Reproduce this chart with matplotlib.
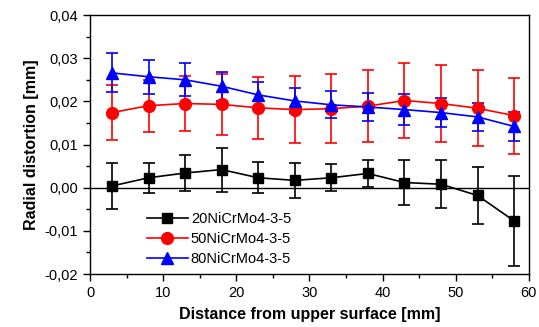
import matplotlib.pyplot as plt
import numpy as np
from matplotlib.ticker import MultipleLocator, FuncFormatter

plt.rcParams['font.family'] = ['Liberation Sans', 'DejaVu Sans']

# distance from upper surface [mm]
distance = [3, 8, 13, 18, 23, 28, 33, 38, 43, 48, 53, 58]

# radial distortion [mm] and error bars
d20 = [0.0004, 0.0023, 0.0034, 0.0042, 0.0023, 0.0017, 0.0023, 0.0033, 0.0012, 0.0008, -0.0018, -0.0077]
e20 = [0.0053, 0.0035, 0.0042, 0.0051, 0.0036, 0.0041, 0.0031, 0.0032, 0.0053, 0.0056, 0.0066, 0.0105]

d50 = [0.0174, 0.0190, 0.0195, 0.0193, 0.0185, 0.0181, 0.0183, 0.0189, 0.0202, 0.0195, 0.0184, 0.0167]
e50 = [0.0063, 0.0060, 0.0064, 0.0071, 0.0072, 0.0077, 0.0080, 0.0083, 0.0087, 0.0089, 0.0088, 0.0088]

d80 = [0.0266, 0.0257, 0.0250, 0.0235, 0.0215, 0.0201, 0.0192, 0.0187, 0.0181, 0.0174, 0.0164, 0.0142]
e80 = [0.0045, 0.0039, 0.0038, 0.0034, 0.0030, 0.0029, 0.0031, 0.0032, 0.0035, 0.0033, 0.0033, 0.0034]

labels = ['20NiCrMo4-3-5', '50NiCrMo4-3-5', '80NiCrMo4-3-5']


def main():
    fig = plt.figure(figsize=(5.39, 3.27), dpi=100)
    ax = fig.add_axes([0.167, 0.162, 0.814, 0.792])

    ax.axhline(0, color='black', lw=1.0, zorder=1)

    series = [(d20, e20, 'black', 's', 7.5), (d50, e50, 'red', 'o', 8.5), (d80, e80, '#0000ff', '^', 9)]
    for (vals, errs, col, mk, ms), lab in zip(series, labels):
        ax.errorbar(distance, vals, yerr=errs, color=col, marker=mk, markersize=ms,
                    lw=1.2, elinewidth=1.2, capsize=4, capthick=1.2, label=lab, zorder=3)

    ax.set_xlim(0, 60)
    ax.set_ylim(-0.02, 0.04)
    ax.xaxis.set_major_locator(MultipleLocator(10))
    ax.xaxis.set_minor_locator(MultipleLocator(5))
    ax.yaxis.set_major_locator(MultipleLocator(0.01))
    ax.yaxis.set_minor_locator(MultipleLocator(0.005))
    ax.yaxis.set_major_formatter(FuncFormatter(lambda v, p: ('%.2f' % v).replace('.', ',')))
    ax.tick_params(which='major', direction='out', length=5, width=1, labelsize=10.5)
    ax.tick_params(which='minor', direction='out', length=3, width=1)
    for s in ax.spines.values():
        s.set_linewidth(1.0)

    ax.set_xlabel('Distance from upper surface [mm]', fontsize=11.5, fontweight='bold', labelpad=5)
    ax.set_ylabel('Radial distortion [mm]', fontsize=11.5, fontweight='bold', labelpad=4)

    handles, labs = ax.get_legend_handles_labels()
    handles = [h[0] for h in handles]
    ax.legend(handles, labs, loc='lower left', bbox_to_anchor=(0.1, -0.02), frameon=False,
              fontsize=10.5, handlelength=2.8, labelspacing=0.42, handletextpad=0.2)

    fig.savefig('out.png', dpi=100)


if __name__ == "__main__":
    main()
